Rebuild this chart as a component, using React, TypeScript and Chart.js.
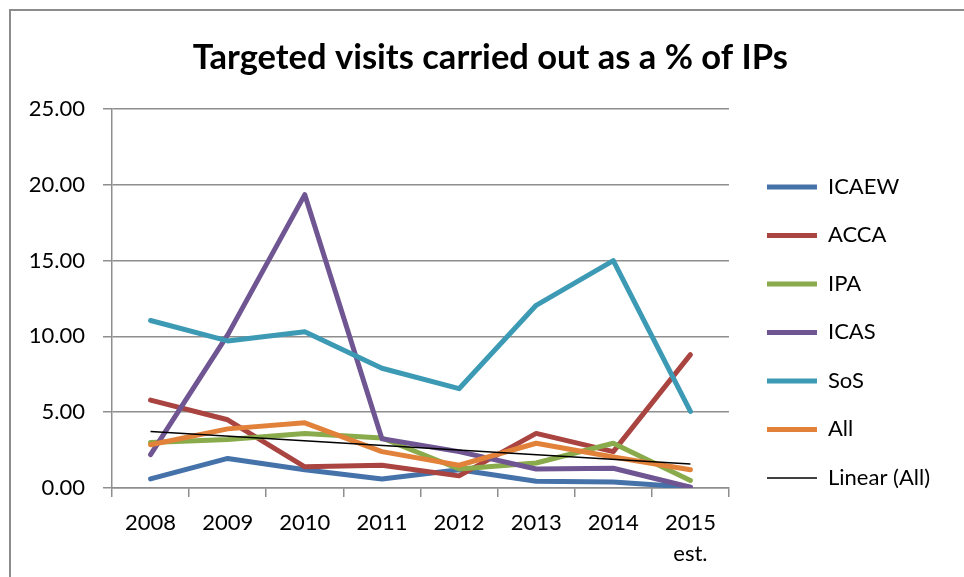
import React, { useEffect, useRef } from "react";
import { Chart, registerables } from "chart.js";

Chart.register(...registerables);

const categories: (string | string[])[] = ["2008", "2009", "2010", "2011", "2012", "2013", "2014", ["2015", "est."]];
const icaew = [0.6, 1.95, 1.2, 0.6, 1.2, 0.45, 0.4, 0.05];
const acca = [5.8, 4.5, 1.4, 1.5, 0.8, 3.6, 2.4, 8.8];
const ipa = [3.0, 3.2, 3.6, 3.3, 1.25, 1.65, 2.95, 0.5];
const icas = [2.2, 10.1, 19.35, 3.25, 2.4, 1.25, 1.3, 0.05];
const sos = [11.05, 9.7, 10.3, 7.9, 6.55, 12.05, 15.0, 5.05];
const all = [2.85, 3.9, 4.3, 2.4, 1.5, 2.95, 2.05, 1.2];
const trendAll = [3.72, null, null, null, null, null, null, 1.58];

const seriesNames = ["ICAEW", "ACCA", "IPA", "ICAS", "SoS", "All"];
const seriesColors = ["#4672AA", "#AA4440", "#8AAB4B", "#6F5592", "#3D9AB4", "#E2823A"];
const trendName = "Linear (All)";

const yTicks = { min: 0, max: 25, step: 5 };

const framePlugin = {
  id: "frame",
  afterLayout(chart: any) {
    const t = chart.titleBlock;
    if (t) {
      t.left += 6;
      t.right += 6;
    }
  },
  beforeDraw(chart: any) {
    const ctx = chart.ctx;
    ctx.save();
    ctx.strokeStyle = "#8c8c8c";
    ctx.lineWidth = 2;
    ctx.beginPath();
    ctx.moveTo(10, chart.height + 5);
    ctx.lineTo(10, 10);
    ctx.lineTo(chart.width + 5, 10);
    ctx.stroke();
    ctx.restore();
  },
};

export default function App() {
  const ref = useRef<HTMLCanvasElement | null>(null);
  useEffect(() => {
    if (!ref.current) return;
    const values = [icaew, acca, ipa, icas, sos, all];
    const datasets: any[] = values.map((d, i) => ({
      label: seriesNames[i],
      data: d,
      borderColor: seriesColors[i],
      backgroundColor: seriesColors[i],
      borderWidth: 5,
      borderCapStyle: "round",
      borderJoinStyle: "round",
      pointRadius: 0,
      tension: 0,
      order: -i,
    }));
    datasets.push({
      label: trendName,
      data: trendAll,
      borderColor: "#000000",
      backgroundColor: "#000000",
      borderWidth: 1.5,
      pointRadius: 0,
      spanGaps: true,
      order: -10,
    });
    const grey = "#8e8e8e";
    const chart = new Chart(ref.current, {
      type: "line",
      data: { labels: categories as any, datasets },
      plugins: [framePlugin],
      options: {
        animation: false,
        responsive: false,
        maintainAspectRatio: false,
        font: { family: "Lato" },
        layout: { padding: { left: 28.5, right: 24, top: 0, bottom: -2.8 } },
        plugins: {
          tooltip: { enabled: false },
          title: {
            display: true,
            text: "Targeted visits carried out as a % of IPs",
            color: "#000",
            font: { family: "Lato", size: 34.5, weight: "bold", lineHeight: 1.2 },
            padding: { top: 36.8, bottom: 30.8 },
          },
          legend: {
            position: "right",
            align: "center",
            maxWidth: 320,
            title: { display: true, text: "", font: { size: 10, lineHeight: 1 }, padding: { top: 75, bottom: 0 } },
            labels: {
              color: "#000",
              font: { family: "Lato", size: 22 },
              usePointStyle: true,
              pointStyle: "line",
              pointStyleWidth: 50,
              padding: 26.5,
              sort: (a: any, b: any) => a.datasetIndex - b.datasetIndex,
            },
          },
        },
        scales: {
          x: {
            offset: true,
            grid: { display: true, drawOnChartArea: false, drawTicks: true, tickLength: 9, color: grey, lineWidth: 1.5, offset: true },
            border: { display: true, color: grey, width: 1.5 },
            ticks: { color: "#000", font: { family: "Lato", size: 22, lineHeight: 1.45 }, padding: 9.5, maxRotation: 0, autoSkip: false },
          },
          y: {
            min: yTicks.min,
            max: yTicks.max,
            grid: { color: grey, lineWidth: 1.5, drawTicks: true, tickLength: 9 },
            border: { display: true, color: grey, width: 1.5 },
            ticks: {
              stepSize: yTicks.step,
              color: "#000",
              font: { family: "Lato", size: 22 },
              padding: 18,
              callback: (v: any) => Number(v).toFixed(2),
            },
            afterFit: (s: any) => { s.width = 83.5; },
          },
          y2: {
            type: "linear",
            position: "right",
            display: true,
            grid: { display: false, drawTicks: false },
            border: { display: false },
            ticks: { display: false },
            afterFit: (s: any) => { s.width = 11.5; },
          } as any,
        },
      } as any,
    });
    return () => chart.destroy();
  }, []);
  return (
    <div style={{ position: "fixed", left: 0, top: 0, width: 964, height: 577, background: "#fff" }}>
      <canvas ref={ref} width={964} height={577} />
    </div>
  );
}
